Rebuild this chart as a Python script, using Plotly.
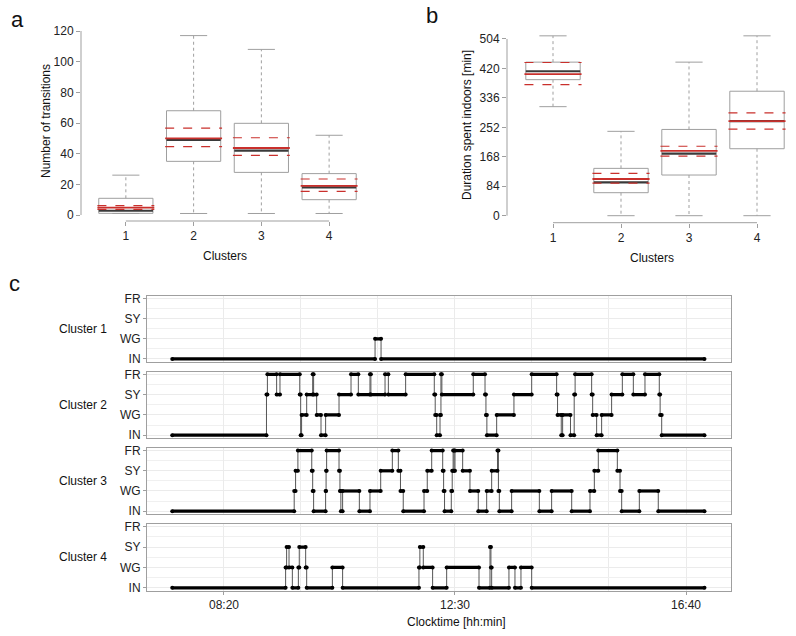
import plotly.graph_objects as go

# ---------------- Panel a: number of transitions ----------------
clusters = [1, 2, 3, 4]
a_low = [1, 1, 1, 1]
a_q1 = [1.1, 35, 27.8, 10]
a_median = [2.8, 49, 42, 18]
a_q3 = [10.9, 68, 59.8, 27]
a_high = [26, 117, 108, 52]
a_mean = [4.8, 50, 43.7, 19]
a_ci_low = [3.7, 44.6, 38.9, 15.4]
a_ci_high = [6.1, 56.7, 50.4, 23.5]
a_ticks = [0, 20, 40, 60, 80, 100, 120]

# ---------------- Panel b: duration spent indoors ----------------
b_low = [311, 0, 0, 0]
b_q1 = [388, 65.6, 116, 191]
b_median = [412, 95, 177, 270]
b_q3 = [438, 135, 246, 355]
b_high = [513, 240.6, 438, 513]
b_mean = [404, 104.6, 185, 270]
b_ci_low = [374, 93, 170, 247]
b_ci_high = [437, 120.8, 198, 293]
b_ticks = [0, 84, 168, 252, 336, 420, 504]

# ---------------- Panel c: state sequences (minutes since midnight) ----------------
state_labels = ["IN", "WG", "SY", "FR"]
time_ticks = [500, 750, 1000]
time_labels = ["08:20", "12:30", "16:40"]
seq_end = 1020

c1_times = [444, 663.5, 670]
c1_states = ["IN", "WG", "IN"]

c2_times = [444, 546, 547, 557, 560.6, 582, 583, 584, 589.5, 596, 597, 600.3, 605, 610,
            624.5, 637.5, 645.4, 658, 659, 674.3, 677.9, 696.6, 727.6, 728.6, 730.2, 733.8,
            734.8, 735.8, 769.8, 782.5, 783.5, 784.5, 795.1, 813.8, 833, 860, 861, 865,
            866.5, 875, 879, 880, 897.9, 899, 903.3, 908.7, 919.5, 931.1, 943, 955.6,
            971.1, 972, 973.7]
c2_states = ["IN", "SY", "FR", "SY", "FR", "SY", "IN", "WG", "SY", "FR", "SY", "WG", "IN", "WG",
             "SY", "FR", "SY", "FR", "SY", "FR", "SY", "FR", "SY", "WG", "IN", "WG",
             "FR", "SY", "FR", "SY", "WG", "IN", "WG", "SY", "FR", "SY", "WG", "IN",
             "WG", "IN", "SY", "FR", "SY", "WG", "IN", "WG", "SY", "FR", "SY", "FR",
             "SY", "WG", "IN"]

c3_times = [444, 576, 577.5, 580, 595, 596, 597, 610, 610.5, 611.1, 624.5, 625.5, 626.5,
            628.4, 646.5, 658, 669.6, 682.2, 688.7, 691, 694, 716.5, 720, 724.8, 736.7,
            737.7, 738.7, 746, 747, 748, 749, 750, 758.3, 766.2, 775.2, 784.3, 789.7, 796,
            797, 798, 811.3, 841.3, 854.6, 876.3, 896.1, 900.8, 905.1, 925.7, 928.6, 930.4,
            949.5, 970]
c3_states = ["IN", "WG", "SY", "FR", "SY", "WG", "IN", "WG", "SY", "FR", "SY", "WG", "IN",
             "WG", "IN", "WG", "SY", "FR", "SY", "WG", "IN", "WG", "SY", "FR", "SY",
             "WG", "IN", "WG", "SY", "FR", "SY", "FR", "SY", "WG", "IN", "WG", "SY", "FR",
             "WG", "IN", "WG", "IN", "WG", "IN", "WG", "SY", "FR", "SY", "WG", "IN",
             "WG", "IN"]

c4_times = [444, 566.7, 567.8, 570.4, 574, 580.5, 581.5, 588.4, 589.5, 617.3, 628.4, 711,
            712, 715.7, 725.8, 741, 776, 787.9, 788.9, 789.7, 808.4, 814.9, 821.4, 833]
c4_states = ["IN", "WG", "SY", "WG", "IN", "WG", "SY", "WG", "IN", "WG", "IN", "WG",
             "SY", "WG", "IN", "WG", "IN", "SY", "WG", "IN", "WG", "IN", "WG", "IN"]

cluster_names = ["Cluster 1", "Cluster 2", "Cluster 3", "Cluster 4"]

W, H = 796, 636
FONT = "Liberation Sans, Arial, sans-serif"
GREY = "#9f9f9f"
RED = "#c9302c"


def px(x):
    return x / W


def py(y):
    return 1 - y / H


fig = go.Figure()


def add_boxes(xa, ya, low, q1, med, q3, high, mean, cil, cih):
    hw, cap, rw = 0.4, 0.2, 0.42
    bx, by, wx, wy, cx, cy, mx, my, ex, ey, dx, dy = ([] for _ in range(12))
    for i, c in enumerate(clusters):
        bx += [c - hw, c + hw, c + hw, c - hw, c - hw, None]
        by += [q1[i], q1[i], q3[i], q3[i], q1[i], None]
        wx += [c, c, None, c, c, None]
        wy += [q3[i], high[i], None, q1[i], low[i], None]
        cx += [c - cap, c + cap, None, c - cap, c + cap, None]
        cy += [high[i], high[i], None, low[i], low[i], None]
        mx += [c - hw, c + hw, None]
        my += [med[i], med[i], None]
        ex += [c - rw, c + rw, None]
        ey += [mean[i], mean[i], None]
        dx += [c - rw, c + rw, None, c - rw, c + rw, None]
        dy += [cil[i], cil[i], None, cih[i], cih[i], None]
    common = dict(xaxis=xa, yaxis=ya, mode="lines", showlegend=False, hoverinfo="skip")
    fig.add_trace(go.Scatter(x=wx, y=wy, line=dict(color=GREY, width=1, dash="dot"), **common))
    fig.add_trace(go.Scatter(x=cx, y=cy, line=dict(color=GREY, width=1), **common))
    fig.add_trace(go.Scatter(x=bx, y=by, line=dict(color=GREY, width=1), **common))
    fig.add_trace(go.Scatter(x=mx, y=my, line=dict(color="#3a3a3a", width=2.2), **common))
    fig.add_trace(go.Scatter(x=dx, y=dy, line=dict(color=RED, width=1.2, dash="dash"), **common))
    fig.add_trace(go.Scatter(x=ex, y=ey, line=dict(color=RED, width=1.8), **common))


add_boxes("x", "y", a_low, a_q1, a_median, a_q3, a_high, a_mean, a_ci_low, a_ci_high)
add_boxes("x2", "y2", b_low, b_q1, b_median, b_q3, b_high, b_mean, b_ci_low, b_ci_high)

# Sequences
seqs = [(c1_times, c1_states), (c2_times, c2_states), (c3_times, c3_states), (c4_times, c4_states)]
for k, (times, states) in enumerate(seqs):
    xa, ya = "x%d" % (k + 3), "y%d" % (k + 3)
    lv = [state_labels.index(s) + 1 for s in states]
    ends = times[1:] + [seq_end]
    sx, sy = [], []
    for i in range(len(times)):
        sx += [times[i], ends[i]]
        sy += [lv[i], lv[i]]
    fig.add_trace(go.Scatter(x=sx, y=sy, mode="lines", line=dict(color="#555555", width=1),
                             xaxis=xa, yaxis=ya, showlegend=False, hoverinfo="skip"))
    tx, ty = [], []
    for i in range(len(times)):
        tx += [times[i], ends[i], None]
        ty += [lv[i], lv[i], None]
    fig.add_trace(go.Scatter(x=tx, y=ty, mode="lines", line=dict(color="black", width=3.2),
                             xaxis=xa, yaxis=ya, showlegend=False, hoverinfo="skip"))
    fig.add_trace(go.Scatter(x=sx, y=sy, mode="markers", marker=dict(color="black", size=4),
                             xaxis=xa, yaxis=ya, showlegend=False, hoverinfo="skip"))

tickfont = dict(family=FONT, size=12, color="#222222")

layout = dict(
    template="none",
    width=W, height=H, margin=dict(l=0, r=0, t=0, b=0, pad=0, autoexpand=False),
    paper_bgcolor="white", plot_bgcolor="white", showlegend=False,
    font=dict(family=FONT, size=12, color="#222222"),
)

layout["xaxis"] = dict(domain=[px(81), px(363)], range=[0.338, 4.5], anchor="y",
                       tickvals=clusters, ticks="outside", ticklen=4, tickcolor=GREY,
                       showline=False, showgrid=False, zeroline=False, tickfont=tickfont,
                       automargin=False)
layout["yaxis"] = dict(domain=[py(221), py(31)], range=[-3.9, 120], anchor="x",
                       tickvals=a_ticks, ticks="outside", ticklen=4, tickcolor=GREY,
                       showline=False, showgrid=False, zeroline=False, tickfont=tickfont,
                       automargin=False)
layout["xaxis2"] = dict(domain=[px(507), px(791)], range=[0.3235, 4.5], anchor="y2",
                        tickvals=clusters, ticks="outside", ticklen=4, tickcolor=GREY,
                        showline=False, showgrid=False, zeroline=False, tickfont=tickfont,
                        automargin=False)
layout["yaxis2"] = dict(domain=[py(222.7), py(33)], range=[-20, 521.1], anchor="x2",
                        tickvals=b_ticks, ticks="outside", ticklen=4, tickcolor=GREY,
                        showline=False, showgrid=False, zeroline=False, tickfont=tickfont,
                        automargin=False)

panel_tops = [296, 371.7, 448, 524]
panel_bots = [361.7, 438, 514, 590.7]
for k in range(4):
    n = k + 3
    last = (k == 3)
    layout["xaxis%d" % n] = dict(
        domain=[px(147), px(731)], range=[416.7, 1048.7], anchor="y%d" % n,
        tickvals=time_ticks, ticktext=time_labels, showticklabels=last,
        ticks="outside" if last else "", ticklen=3, tickcolor=GREY,
        showgrid=True, gridcolor="#ebebeb", gridwidth=1,
        minor=dict(dtick=250 / 3, tick0=500, showgrid=True, gridcolor="#ebebeb", gridwidth=1),
        showline=True, mirror=True, linecolor=GREY, linewidth=1, zeroline=False,
        tickfont=tickfont, automargin=False)
    layout["yaxis%d" % n] = dict(
        domain=[py(panel_bots[k]), py(panel_tops[k])], range=[0.86, 4.13], anchor="x%d" % n,
        tickvals=[1, 2, 3, 4], ticktext=state_labels, ticks="outside", ticklen=3, tickcolor=GREY,
        showgrid=True, gridcolor="#ebebeb", gridwidth=1,
        minor=dict(dtick=0.5, tick0=0.5, showgrid=True, gridcolor="#f0f0f0", gridwidth=1),
        showline=True, mirror=True, linecolor=GREY, linewidth=1, zeroline=False,
        tickfont=tickfont, automargin=False)

fig.update_layout(**layout)

shapes = [
    dict(type="line", xref="x domain", yref="y", x0=0, x1=0, y0=min(a_ticks), y1=max(a_ticks),
         line=dict(color=GREY, width=1)),
    dict(type="line", xref="x", yref="y domain", x0=min(clusters), x1=max(clusters), y0=0, y1=0,
         line=dict(color=GREY, width=1)),
    dict(type="line", xref="x2 domain", yref="y2", x0=0, x1=0, y0=min(b_ticks), y1=max(b_ticks),
         line=dict(color=GREY, width=1)),
    dict(type="line", xref="x2", yref="y2 domain", x0=min(clusters), x1=max(clusters), y0=0, y1=0,
         line=dict(color=GREY, width=1)),
]
fig.update_layout(shapes=shapes)

ann = []


def add_text(x, y, text, size=12, angle=0):
    ann.append(dict(x=px(x), y=py(y), xref="paper", yref="paper", text=text, showarrow=False,
                    xanchor="center", yanchor="middle", textangle=angle,
                    font=dict(family=FONT, size=size, color="#111111")))


add_text(17, 19, "a", 22)
add_text(432, 16, "b", 22)
add_text(15, 283, "c", 22)
add_text(46, 121, "Number of transitions", 12, -90)
add_text(467, 125, "Duration spent indoors [min]", 12, -90)
add_text(225, 256, "Clusters", 12)
add_text(652, 258, "Clusters", 12)
for k in range(4):
    add_text(83, (panel_tops[k] + panel_bots[k]) / 2, cluster_names[k], 12)
add_text(456, 622, "Clocktime [hh:min]", 12)
fig.update_layout(annotations=ann)

fig.write_html(
    "out.html",
    config={"displayModeBar": False},
    post_script="document.body.style.margin='0';document.body.style.padding='0';"
                "document.body.style.overflow='hidden';",
)
